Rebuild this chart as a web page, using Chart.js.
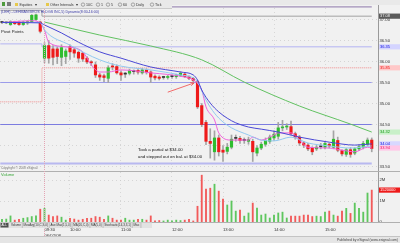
<!DOCTYPE html>
<html><head><meta charset="utf-8">
<script src="https://cdn.jsdelivr.net/npm/chart.js@4.4.0/dist/chart.umd.min.js"></script>
<style>html,body{margin:0;padding:0;background:#f1f1f1;overflow:hidden}canvas{display:block}</style>
</head><body><canvas id="c" width="400" height="243"></canvas>
<script>
// ---------------- DATA ----------------
const times = ['08:40','08:45','08:50','08:55','09:00','09:05','09:10','09:15','09:20','09:25',
'09:30','09:35','09:40','09:45','09:50','09:55','10:00','10:05','10:10','10:15','10:20','10:25',
'10:30','10:35','10:40','10:45','10:50','10:55','11:00','11:05','11:10','11:15','11:20','11:25',
'11:30','11:35','11:40','11:45','11:50','11:55','12:00','12:05','12:10','12:15','12:20','12:25',
'12:30','12:35','12:40','12:45','12:50','12:55','13:00','13:05','13:10','13:15','13:20','13:25',
'13:30','13:35','13:40','13:45','13:50','13:55','14:00','14:05','14:10','14:15','14:20','14:25',
'14:30','14:35','14:40','14:45','14:50','14:55','15:00','15:05','15:10','15:15','15:20','15:25',
'15:30','15:35','15:40','15:45','15:50','15:55'];
const opens = [36.93,36.92,36.88,36.95,36.94,36.88,36.92,36.95,37.00,36.94,
36.08,36.38,36.30,36.30,36.10,36.12,36.35,36.28,36.22,36.20,36.08,35.98,35.92,35.68,35.66,35.60,35.88,35.88,35.73,35.70,
35.72,35.76,35.79,35.73,35.80,35.75,35.65,35.63,35.62,35.62,35.64,35.64,35.67,35.70,35.64,35.60,35.52,34.95,34.55,34.10,
33.85,34.18,33.89,33.86,33.96,34.17,34.17,34.12,34.10,34.10,33.82,33.94,34.03,34.10,34.18,34.22,34.42,34.44,34.45,34.28,
34.20,34.06,34.01,33.94,33.92,33.97,33.96,34.03,33.96,34.12,33.88,33.79,33.90,33.82,33.92,33.96,34.03,34.13];
const highs = [36.95,36.95,36.97,36.96,36.96,36.96,36.97,37.12,37.13,36.96,
36.45,36.50,36.38,36.35,36.40,36.30,36.40,36.33,36.25,36.22,36.12,36.02,35.99,35.72,35.70,35.90,35.95,35.92,35.78,35.74,
35.82,35.80,35.82,35.84,35.83,35.78,35.68,35.66,35.65,35.67,35.68,35.70,35.76,35.72,35.66,35.62,35.55,35.00,34.60,34.40,
34.35,34.25,34.00,34.05,34.25,34.25,34.22,34.18,34.20,34.15,34.00,34.08,34.18,34.25,34.35,34.55,34.60,34.52,34.58,34.32,
34.24,34.10,34.05,33.97,34.00,34.05,34.10,34.06,34.35,34.20,33.90,33.93,33.95,33.95,34.02,34.10,34.18,34.18];
const lows = [36.90,36.90,36.86,36.88,36.86,36.86,36.88,36.93,36.98,36.68,
35.97,35.96,35.92,35.95,35.90,35.95,36.05,36.10,35.98,36.00,35.95,35.90,35.62,35.55,35.52,35.50,35.80,35.70,35.55,35.62,
35.68,35.70,35.70,35.70,35.70,35.50,35.56,35.56,35.58,35.58,35.60,35.60,35.64,35.62,35.57,35.52,34.88,34.45,34.02,33.70,
33.65,33.75,33.62,33.80,33.92,34.10,34.05,34.05,34.03,33.62,33.75,33.90,33.98,34.05,34.12,34.15,34.35,34.38,34.25,34.15,
34.00,33.95,33.88,33.78,33.88,33.92,33.92,33.94,33.92,33.85,33.75,33.74,33.72,33.78,33.88,33.92,34.00,33.85];
const closes = [36.93,36.94,36.95,36.90,36.88,36.94,36.95,37.10,37.11,36.72,
36.38,36.08,36.10,36.12,36.33,36.25,36.23,36.20,36.08,36.06,35.99,35.97,35.68,35.63,35.62,35.85,35.87,35.73,35.68,35.70,
35.78,35.76,35.75,35.80,35.75,35.63,35.61,35.60,35.62,35.64,35.64,35.68,35.72,35.64,35.60,35.55,34.92,34.50,34.10,34.05,
34.18,33.85,33.84,33.96,34.15,34.17,34.12,34.12,34.14,33.85,33.94,34.03,34.12,34.20,34.27,34.42,34.44,34.45,34.28,34.20,
34.06,34.01,33.92,33.85,33.96,33.97,34.05,33.99,34.15,33.89,33.80,33.90,33.79,33.92,33.97,34.05,34.13,33.93];
// volume in millions of shares
const volumes = [0.13,0.14,0.29,0.09,0.13,0.18,0.21,0.26,0.29,0.61,
0.65,0.33,0.26,0.29,0.23,0.09,0.18,0.14,0.09,0.13,
0.18,0.18,0.26,0.23,0.13,0.29,0.18,0.09,0.09,0.18,
0.09,0.09,0.13,0.13,0.09,0.29,0.05,0.07,0.05,0.09,
0.05,0.09,0.07,0.09,0.13,0.05,0.75,2.23,1.57,1.61,
1.80,1.47,1.09,0.81,1.00,0.52,0.57,0.28,0.43,0.90,
0.66,0.33,0.38,0.19,0.33,0.43,0.47,0.19,0.28,0.28,
0.28,0.33,0.33,0.26,0.28,0.26,0.47,0.52,0.33,0.28,
0.52,0.65,0.41,0.90,0.65,0.47,1.38,1.52];

// moving averages
const maSlowTimes  = ['09:30','10:35','11:35','12:35','13:25','14:30','15:30','15:55'];
const maSlowValues = [36.94,36.63,36.37,36.04,35.51,34.94,34.51,34.32];
const maMidTimes  = ['08:40','09:25','09:30','09:50','10:10','10:35','11:00','11:35','12:10','12:25','12:30','12:35','12:45','12:55','13:05','13:15','13:30','13:45','14:05','14:30','15:05','15:35','15:55'];
const maMidValues = [36.93,36.92,36.87,36.68,36.46,36.23,36.08,35.87,35.75,35.68,35.56,35.32,35.01,34.80,34.65,34.54,34.44,34.39,34.32,34.20,34.08,34.01,34.04];
const maFastTimes  = ['08:40','09:25','09:30','10:00','10:35','11:00','11:35','12:10','12:25','12:30','12:40','12:50','13:00','13:10','13:30','13:45','14:00','14:20','14:40','15:05','15:30','15:55'];
const maFastValues = [36.93,36.93,36.75,36.39,36.04,35.89,35.80,35.68,35.61,35.51,35.08,34.77,34.56,34.42,34.25,34.13,34.11,34.20,34.06,33.99,33.94,33.99];
const maPinkTimes  = ['08:40','09:15','09:25','09:30','09:35','09:55','10:15','10:25','10:35','10:45','11:00','11:35','12:15','12:25','12:35','12:40','12:50','12:55','13:10','13:30','13:35','13:45','14:00','14:05','14:20','14:30','14:40','15:05','15:20','15:35','15:50','15:55'];
const maPinkValues = [36.93,36.97,36.92,36.75,36.46,36.35,36.23,35.92,35.75,35.75,35.80,35.73,35.63,35.56,35.32,34.92,34.61,34.30,34.13,34.13,34.20,34.13,34.25,34.30,34.30,34.13,33.96,33.94,33.89,33.85,33.96,33.94];

// pivot-point levels (pre-session value, session value)
const pivotTimes = ['08:38','09:27','15:55'];
const pivotRed   = [35.04,35.85,35.85];
const pivotBlue  = [36.42,36.35,36.35];
const pivotGray  = [37.22,37.08,37.08];
const pivotTop   = [37.30,37.30,37.30];
// hand-drawn support / resistance levels
const levelTimes = ['08:38','15:55'];
const levels = [35.50, 34.50, 33.57];

const priceTicks = [33.5,34.0,34.5,35.0,35.5,36.0,36.5,37.0];
const volumeTicks = [0,0.5,1,1.5,2];
const timeTicks = ['09:30','10:00','11:00','12:00','13:00','14:00','15:00'];
const sessionDate = '06/02/08';
const arrowFrom = ['11:55',35.27];
const arrowTo = ['12:26',35.49];
const noteLines = [['11:20',33.89,'Took a partial at $34.00'],['11:20',33.72,'and stepped out on bal. at $34.00']];

// ---------------- CHART ----------------
const toMin = s => { const p = s.split(':'); return (+p[0])*60 + (+p[1]); };
const UP = '#2fbd2f', DN = '#ee1a1a', DOJI = '#333';
const F = 'Liberation Sans, Arial, sans-serif';
Chart.defaults.font.family = F;

const candleX = times.map(toMin);
const pts = (ts, vs) => ts.map((t,i)=>({x: toMin(t), y: vs[i]}));
const line = (data, color, extra) => Object.assign({type:'line', data, borderColor: color, borderWidth: 1, pointRadius: 0, fill: false, yAxisID: 'y', order: 0}, extra||{});

const datasets = [
  line(pts(maSlowTimes, maSlowValues), '#62c262', {cubicInterpolationMode:'monotone'}),
  line(pts(maMidTimes, maMidValues), '#4a48d6', {cubicInterpolationMode:'monotone'}),
  line(pts(maFastTimes, maFastValues), '#93c9f0', {cubicInterpolationMode:'monotone'}),
  line(pts(maPinkTimes, maPinkValues), '#f062dc', {cubicInterpolationMode:'monotone'}),
  line(pts(pivotTimes, pivotRed), '#f08a8a', {stepped:true, borderDash:[1,1], order: 6}),
  line(pts(pivotTimes, pivotBlue), '#b4b4f2', {stepped:true, order: 6}),
  line(pts(pivotTimes, pivotGray), '#a2a2a2', {stepped:true, order: 6}),
  line(pts(pivotTimes, pivotTop), '#8c76aa', {order: 6}),
  line(pts(levelTimes, [levels[0],levels[0]]), '#9c9cea', {order: 6, borderWidth: 1.2}),
  line(pts(levelTimes, [levels[1],levels[1]]), '#7c7ce0', {order: 6, borderWidth: 1.2}),
  line(pts(levelTimes, [levels[2],levels[2]]), '#b8b8f0', {order: 6, borderWidth: 2}),
  {type:'bar', data: candleX.map((x,i)=>({x, y:[lows[i], highs[i]]})), backgroundColor:'#a4a4a4', barThickness: 1, grouped:false, yAxisID:'y', order: 3},
  {type:'bar', data: candleX.map((x,i)=>({x, y:[opens[i], closes[i]]})), backgroundColor: ctx => { const i = ctx.dataIndex; return closes[i] > opens[i] ? UP : (closes[i] < opens[i] ? DN : DOJI); }, barThickness: 2.5, minBarLength: 1, grouped:false, yAxisID:'y', order: 2},
  {type:'bar', data: candleX.map((x,i)=>({x, y: volumes[i]})), backgroundColor: ctx => { const i = ctx.dataIndex; return closes[i] >= opens[i] ? '#5ec65e' : '#f25a5a'; }, barThickness: 1.2, grouped:false, yAxisID:'yv', order: 2}
];

function font(sz, w){ return (w||'') + ' ' + sz + 'px ' + F; }

const deco = {
  id: 'deco',
  beforeDraw(chart){
    const c = chart.ctx; c.save();
    c.fillStyle = '#f1f1f1'; c.fillRect(0,0,400,243);
    c.restore();
  },
  afterDraw(chart){
    const c = chart.ctx, xs = chart.scales.x, ys = chart.scales.y, yv = chart.scales.yv, ca = chart.chartArea;
    c.save();
    // right axis divider & panel separator
    c.strokeStyle = '#9a9a9a'; c.lineWidth = 1;
    c.beginPath(); c.moveTo(ca.right+0.5, 4); c.lineTo(ca.right+0.5, ca.bottom); c.stroke();
    c.strokeStyle = '#b0b0b0';
    c.beginPath(); c.moveTo(0, yv.top+0.5); c.lineTo(400, yv.top+0.5); c.stroke();
    c.beginPath(); c.moveTo(0, ca.bottom+0.5); c.lineTo(400, ca.bottom+0.5); c.stroke();
    // session start marker
    const sx = Math.round(xs.getPixelForValue(toMin(timeTicks[0])))+0.5;
    c.strokeStyle = '#e4a4b4'; c.setLineDash([1,1]);
    c.beginPath(); c.moveTo(sx, 9); c.lineTo(sx, 236); c.stroke(); c.setLineDash([]);
    // arrow
    const ax0 = xs.getPixelForValue(toMin(arrowFrom[0])), ay0 = ys.getPixelForValue(arrowFrom[1]);
    const ax1 = xs.getPixelForValue(toMin(arrowTo[0])), ay1 = ys.getPixelForValue(arrowTo[1]);
    c.strokeStyle = '#f25a5a'; c.lineWidth = 0.9;
    c.beginPath(); c.moveTo(ax0, ay0); c.lineTo(ax1, ay1); c.stroke();
    const ang = Math.atan2(ay1-ay0, ax1-ax0);
    c.beginPath();
    c.moveTo(ax1 - 4*Math.cos(ang-0.45), ay1 - 4*Math.sin(ang-0.45));
    c.lineTo(ax1, ay1);
    c.lineTo(ax1 - 4*Math.cos(ang+0.45), ay1 - 4*Math.sin(ang+0.45));
    c.stroke();
    // annotation
    c.fillStyle = '#111'; c.font = font(4.3); c.textBaseline = 'middle'; c.textAlign = 'left';
    noteLines.forEach(n => c.fillText(n[2], xs.getPixelForValue(toMin(n[0])), ys.getPixelForValue(n[1])));
    // labels
    c.fillStyle = '#222'; c.font = font(4.3);
    c.fillText('Pivot Points', 1, 31.5);
    c.fillStyle = '#777'; c.font = font(3.2);
    c.fillText('Copyright \u00A9 2008 eSignal', 1, 168.5);
    c.fillStyle = '#3aa83a'; c.font = font(4);
    c.fillText('Volume', 1, 175);
    // toolbar
    c.fillStyle = '#e9e9e9'; c.fillRect(0,0,400,5); c.fillRect(0,0,172,9);
    c.strokeStyle = '#c6c6c6'; c.beginPath(); c.moveTo(0,8.5); c.lineTo(172,8.5); c.stroke();
    c.fillStyle = '#4f9b3c'; c.fillRect(2,2,3,4);
    c.fillStyle = '#7a7a7a'; c.fillRect(7,2,4,4);
    c.fillStyle = '#e6c84c'; c.fillRect(15,3,3,3); c.fillRect(46,3,3,3);
    c.fillStyle = '#333'; c.font = font(3.6); c.textBaseline = 'middle';
    c.fillText('Equities', 19.5, 4.8); c.fillText('\u25BE', 35, 4.8);
    c.fillText('Other Intervals', 50, 4.8); c.fillText('\u25BE', 76, 4.8);
    [['10C',83],['1',98],['5',108],['60',120],['Daily',133],['Tick',152]].forEach(b => {
      c.strokeStyle = '#777'; c.lineWidth = 0.6; c.beginPath(); c.arc(b[1], 4.6, 1.7, 0, Math.PI*2); c.stroke();
      c.fillStyle = '#333'; c.fillText(b[0], b[1]+3, 4.8);
    });
    // title
    c.fillStyle = '#3b3ba6'; c.font = font(3.6);
    c.fillText('(LEH) - LEHMAN BROS HLDGS INC,5) Dynamic(8:30-16:00)', 1, 11.5);
    // tabs row
    c.fillStyle = '#e2e2e2'; c.fillRect(0, 222.5, 152, 5.5);
    c.fillStyle = '#505050'; c.fillRect(0.5, 223, 8, 4.5);
    c.fillStyle = '#fff'; c.font = font(3); c.fillText('ALL', 1.5, 225.4);
    c.fillStyle = '#333';
    let tx = 11;
    ['Volume','MovAvg(10,C,S,0)','Ave Max(1,5,0)','MA(20,C,0)','MA(5,0)','Stochastic(14,3,3,1)','Misc'].forEach(t => {
      c.fillText(t, tx, 225.4); const w = c.measureText(t).width; tx += w + 2.5;
      c.strokeStyle = '#999'; c.lineWidth = 0.5; c.beginPath(); c.moveTo(tx-1.2, 223); c.lineTo(tx-1.2, 228); c.stroke();
    });
    // status bar
    c.fillStyle = '#e5e5e5'; c.fillRect(0, 237, 400, 6);
    c.strokeStyle = '#c4c4c4'; c.lineWidth = 1; c.beginPath(); c.moveTo(0, 236.5); c.lineTo(400, 236.5); c.stroke();
    c.fillStyle = '#444'; c.font = font(3.4); c.textAlign = 'right';
    c.fillText('Published by eSignal (www.esignal.com)', 398, 240);
    // axis value boxes
    c.textAlign = 'left';
    const box = (y, txt, bg, fg) => {
      c.fillStyle = bg; c.fillRect(ca.right+1, y-2.6, 21, 5.2);
      c.fillStyle = fg; c.font = font(4); c.fillText(txt, ca.right+2, y+0.2);
    };
    const last = a => a[a.length-1];
    box(ys.getPixelForValue(last(pivotGray)), last(pivotGray).toFixed(2), '#5a5a5a', '#f4f4f4');
    box(ys.getPixelForValue(last(pivotBlue)), last(pivotBlue).toFixed(2), '#d4d4ff', '#1010e0');
    box(ys.getPixelForValue(last(pivotRed)), last(pivotRed).toFixed(2), '#ffc8c8', '#ee1010');
    box(ys.getPixelForValue(last(maSlowValues)), last(maSlowValues).toFixed(2), '#c8f0c8', '#1a9a1a');
    box(ys.getPixelForValue(last(maMidValues)), last(maMidValues).toFixed(2), '#d8d8ff', '#1010e0');
    box(ys.getPixelForValue(last(maPinkValues)), last(maPinkValues).toFixed(2), '#ffc8e8', '#ee1060');
    box(yv.getPixelForValue(last(volumes)), String(Math.round(last(volumes)*1e6)), '#ee1a1a', '#ffffff');
    c.restore();
  }
};

new Chart(document.getElementById('c'), {
  type: 'bar',
  data: { datasets },
  options: {
    responsive: false, animation: false, devicePixelRatio: 1,
    layout: { padding: { top: 4, left: 0, right: 0, bottom: 0 } },
    plugins: { legend: { display: false }, tooltip: { enabled: false } },
    scales: {
      x: {
        type: 'linear', min: 517.65, max: 962.35, offset: false, position: 'bottom',
        afterFit: s => { s.height = 21; },
        afterBuildTicks: s => { s.ticks = timeTicks.map(t => ({ value: toMin(t) })); },
        ticks: {
          autoSkip: false, maxRotation: 0, minRotation: 0, align: 'start', padding: 5.5,
          color: '#333', font: { size: 4.2, lineHeight: 1.25 },
          callback: v => { const i = timeTicks.findIndex(t => toMin(t) === v); return i === 0 ? [timeTicks[0], sessionDate] : timeTicks[i]; }
        },
        grid: { offset: false, drawTicks: false, color: ctx => (ctx.index === 0 ? 'rgba(0,0,0,0)' : '#cccccc'), lineWidth: 0.7 },
        border: { display: false, dash: [1, 3] }
      },
      y: {
        type: 'linear', position: 'right', stack: 'panes', stackWeight: 167, min: 33.393, max: 37.369,
        afterFit: s => { s.width = 22; },
        afterBuildTicks: s => { s.ticks = priceTicks.map(v => ({ value: v })); },
        ticks: { padding: 1.5, color: '#333', font: { size: 4.2 }, callback: v => v.toFixed(2) },
        grid: { drawTicks: false, color: '#c8c8c8', lineWidth: 0.7 },
        border: { display: false, dash: [1, 3] }
      },
      yv: {
        type: 'linear', position: 'right', stack: 'panes', stackWeight: 51, min: 0, max: 2.4286,
        afterFit: s => { s.width = 22; },
        afterBuildTicks: s => { s.ticks = volumeTicks.map(v => ({ value: v })); },
        ticks: { padding: 1.5, color: '#333', font: { size: 4.2 }, callback: v => v === 0 ? '0' : (v < 1 ? Math.round(v*1000) + 'K' : v + 'M') },
        grid: { drawTicks: false, color: '#c8c8c8', lineWidth: 0.7 },
        border: { display: false, dash: [1, 3] }
      }
    }
  },
  plugins: [deco]
});
</script>
</body></html>
